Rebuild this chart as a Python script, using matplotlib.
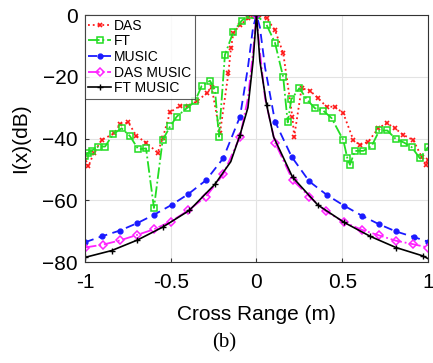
import numpy as np
import matplotlib
matplotlib.use("Agg")
import matplotlib.pyplot as plt

plt.rcParams['font.family'] = ['Liberation Sans', 'DejaVu Sans']

# values (cross range in m, level in dB)
das_x = [-1, -0.98, -0.948, -0.903, -0.83, -0.796, -0.747, -0.70, -0.644, -0.576,
         -0.547, -0.504, -0.446, -0.398, -0.349, -0.29, -0.262, -0.213, -0.164, -0.149,
         -0.135, -0.096, -0.048, 0, 0.059, 0.108, 0.156, 0.209, 0.22, 0.263,
         0.312, 0.36, 0.409, 0.458, 0.506, 0.565, 0.603, 0.652, 0.71, 0.76,
         0.807, 0.856, 0.914, 0.963, 0.988, 1.0]
das_y = [-47, -49, -44.6, -40.5, -38.3, -35.4, -34.8, -39.2, -41.3, -44.6,
         -39.9, -31.5, -29.4, -29.4, -28, -25.3, -23.2, -38.3, -18.9, -10.8,
         -5.9, -3.2, -1.1, 0, -1.1, -4.9, -12.4, -32.9, -39.4, -23.7,
         -24.5, -27, -29.7, -29.7, -31.8, -40.5, -42.1, -41, -36.7, -35,
         -36.7, -38.8, -40.5, -45.9, -48.5, -47]

ft_x = [-1, -0.98, -0.96, -0.922, -0.883, -0.835, -0.786, -0.738, -0.689, -0.644,
        -0.598, -0.547, -0.504, -0.465, -0.407, -0.359, -0.32, -0.271, -0.242, -0.219,
        -0.184, -0.135, -0.086, -0.038, 0, 0.059, 0.108, 0.156, 0.182, 0.203,
        0.25, 0.296, 0.341, 0.39, 0.438, 0.506, 0.53, 0.545, 0.574, 0.623,
        0.672, 0.716, 0.763, 0.813, 0.86, 0.905, 0.953, 1.0]
ft_y = [-45.5, -44.6, -43.9, -42.6, -42.6, -38.5, -36.7, -39.2, -43.5, -43.2,
        -62.5, -40.5, -36.1, -32.9, -30.2, -28, -23, -21.3, -24.3, -39.4,
        -12.9, -5.4, -1.8, 0, 0, -3.2, -9, -20.2, -34.8, -27.3,
        -23.7, -27.5, -30.2, -31, -33.4, -40.5, -46.4, -48.5, -44, -44,
        -42.4, -37.4, -37.4, -40.2, -41.3, -42.8, -46.4, -42.8]

music_x = [-1, -0.903, -0.796, -0.695, -0.598, -0.495, -0.398, -0.294, -0.194, -0.096,
           -0.05, -0.02, 0, 0.02, 0.05, 0.108, 0.205, 0.308, 0.411, 0.512,
           0.615, 0.712, 0.813, 0.917, 1.0]
music_y = [-73.6, -71.7, -69.8, -67.4, -64.7, -61.5, -58, -53.5, -46.4, -32.9,
           -17, -4, 0, -4, -17, -34.5, -45.9, -53.9, -58.3, -61.8,
           -65, -67.7, -70.1, -71.9, -73.4]

dasm_x = [-1, -0.897, -0.796, -0.695, -0.598, -0.5, -0.398, -0.294, -0.194, -0.096,
          -0.05, -0.02, 0, 0.02, 0.05, 0.108, 0.21, 0.308, 0.405, 0.512,
          0.615, 0.716, 0.813, 0.911, 1.0]
dasm_y = [-75.3, -74.4, -73, -71.2, -69.4, -66.9, -63.3, -58.8, -51.6, -39.4,
          -27, -12, 0, -12, -27, -41.3, -53.4, -58.8, -63.6, -67.1,
          -69.6, -71.4, -73.1, -74.2, -75.3]

ftm_x = [-1, -0.845, -0.695, -0.547, -0.392, -0.242, -0.15, -0.096, -0.05, -0.02,
         0, 0.02, 0.059, 0.1, 0.21, 0.357, 0.512, 0.664, 0.813, 0.969, 1.0]
ftm_y = [-78.5, -76.3, -72.9, -68.7, -63.3, -54.8, -47.5, -38.8, -30, -15,
         0, -15, -29.1, -39.5, -52.5, -61.5, -67.2, -71.7, -75.3, -78, -78.9]

xticks = [-1, -0.5, 0, 0.5, 1]
xticklabels = ['-1', '-0.5', '0', '0.5', '1']
yticks = [-80, -60, -40, -20, 0]

fig = plt.figure(figsize=(4.33, 3.63), dpi=100)
ax = fig.add_axes([0.1963, 0.2782, 0.7921, 0.6804])

ax.plot(das_x, das_y, color='#ff1a1a', ls=':', lw=1.3, marker='x', ms=3.5, mew=1.2,
        label='DAS')
ax.plot(ft_x, ft_y, color='#22dd22', ls='-.', lw=1.3, marker='s', ms=4.5, mfc='none',
        mew=1.1, label='FT')
ax.plot(music_x, music_y, color='#1a1aff', ls=(0, (5, 3)), lw=1.3, marker='o', ms=3.5,
        markevery=[i for i in range(len(music_x)) if i not in (10, 11, 13, 14)],
        label='MUSIC')
ax.plot(dasm_x, dasm_y, color='#ff22ff', ls='-.', lw=1.3, marker='D', ms=4, mfc='none',
        mew=1.1, markevery=[i for i in range(len(dasm_x)) if i not in (10, 11, 13, 14)],
        label='DAS MUSIC')
ax.plot(ftm_x, ftm_y, color='black', ls='-', lw=1.2, marker='+', ms=5, mew=1.0,
        markevery=[0, 1, 2, 3, 4, 5, 7, 10, 12, 14, 15, 16, 17, 18, 19],
        label='FT MUSIC')

ax.set_xlim(-1, 1)
ax.set_ylim(-80, 0)
ax.set_xticks(xticks)
ax.set_xticklabels(xticklabels)
ax.set_yticks(yticks)
ax.tick_params(direction='in', length=3, labelsize=15, color='#333333')
ax.tick_params(axis='x', pad=8)
ax.tick_params(axis='y', pad=5)
ax.grid(True, color='#e3e3e3', lw=0.8)
ax.set_axisbelow(True)
for s in ax.spines.values():
    s.set_color('#333333')
    s.set_linewidth(0.8)

ax.set_xlabel('Cross Range (m)', fontsize=15, labelpad=9)
ax.set_ylabel('I(x)(dB)', fontsize=15, labelpad=9)

leg = ax.legend(loc='upper left', fontsize=10, frameon=True, fancybox=False,
                borderaxespad=0, handlelength=1.6, handletextpad=0.25,
                labelspacing=0.12, borderpad=0.25)
leg.get_frame().set_edgecolor('#333333')
leg.get_frame().set_linewidth(0.8)

fig.text(224 / 433, 1 - 343 / 363, '(b)', fontsize=15, family='Liberation Serif',
         ha='center', va='center')

fig.savefig('out.png', dpi=100)
